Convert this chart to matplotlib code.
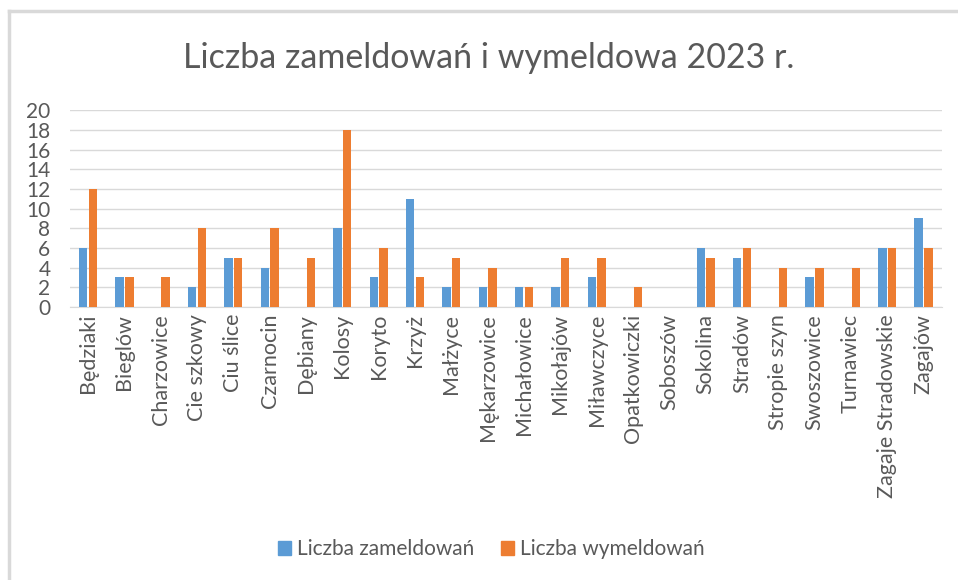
import numpy as np
import matplotlib.pyplot as plt
from matplotlib.patches import Patch
from matplotlib.lines import Line2D

miejscowosci = ['Będziaki', 'Bieglów', 'Charzowice', 'Cie szkowy', 'Ciu ślice',
                'Czarnocin', 'Dębiany', 'Kolosy', 'Koryto', 'Krzyż', 'Małżyce',
                'Mękarzowice', 'Michałowice', 'Mikołajów', 'Miławczyce',
                'Opatkowiczki', 'Soboszów', 'Sokolina', 'Stradów', 'Stropie szyn',
                'Swoszowice', 'Turnawiec', 'Zagaje Stradowskie', 'Zagajów']
zameldowania = [6, 3, 0, 2, 5, 4, 0, 8, 3, 11, 2, 2, 2, 2, 3, 0, 0, 6, 5, 0, 3, 0, 6, 9]
wymeldowania = [12, 3, 3, 8, 5, 8, 5, 18, 6, 3, 5, 4, 2, 5, 5, 2, 0, 5, 6, 4, 4, 4, 6, 6]
y_ticks = list(range(0, 21, 2))

NIEBIESKI = '#5B9BD5'
POMARANCZ = '#ED7D31'
SZARY = '#595959'

plt.rcParams['font.family'] = ['Lato', 'DejaVu Sans']

fig = plt.figure(figsize=(9.58, 5.8), dpi=100)
ax = fig.add_axes([0.073, 0.4707, 0.910, 0.3393])

x = np.arange(len(miejscowosci))
szer = 0.23
ax.bar(x - szer / 2 - 0.02, zameldowania, szer, color=NIEBIESKI, label='Liczba zameldowań', zorder=3)
ax.bar(x + szer / 2 + 0.02, wymeldowania, szer, color=POMARANCZ, label='Liczba wymeldowań', zorder=3)

ax.set_xlim(-0.5, len(miejscowosci) - 0.5)
ax.set_ylim(0, 20)
ax.set_yticks(y_ticks)
ax.set_yticklabels([str(t) for t in y_ticks], fontsize=15, color=SZARY)
ax.set_xticks(x)
ax.set_xticklabels(miejscowosci, rotation=90, fontsize=15.5, color=SZARY)
ax.tick_params(axis='both', length=0, pad=5)
ax.tick_params(axis='y', pad=14)
ax.grid(axis='y', color='#D9D9D9', linewidth=1, zorder=0)
for s in ['top', 'right', 'left']:
    ax.spines[s].set_visible(False)
ax.spines['bottom'].set_color('#D9D9D9')

fig.text(0.510, 0.90, 'Liczba zameldowań i wymeldowa 2023 r.', ha='center', va='center',
         fontsize=24.5, color=SZARY)

uchwyty = [Patch(color=NIEBIESKI), Patch(color=POMARANCZ)]
fig.legend(uchwyty, ['Liczba zameldowań', 'Liczba wymeldowań'], loc='center',
           bbox_to_anchor=(0.513, 0.053), ncol=2, frameon=False, fontsize=15,
           labelcolor=SZARY, handlelength=0.6, handleheight=0.6, handletextpad=0.3,
           columnspacing=1.3)

# ramka wykresu
fig.add_artist(Line2D([0.0095, 0.0095], [0, 0.981], color='#D9D9D9', lw=2.5))
fig.add_artist(Line2D([0.0095, 1.0], [0.981, 0.981], color='#D9D9D9', lw=2.5))

fig.savefig('out.png', dpi=100)
